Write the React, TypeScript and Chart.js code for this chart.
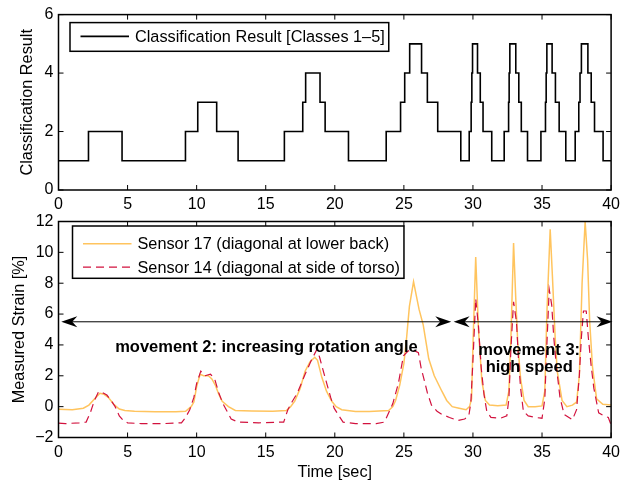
import React, { useEffect, useRef } from 'react';
import { Chart, registerables } from 'chart.js';

Chart.register(...registerables);

// ---------- data ----------
const classTime = [0, 2.17, 4.6, 9.19, 10.08, 11.45, 13.0, 16.35, 17.68, 17.89, 18.93, 19.3, 20.99, 23.72, 24.76, 25.06, 25.42, 26.28, 26.7, 27.45, 29.12, 29.73, 29.87, 29.92, 29.97, 30.33, 30.53, 30.73, 31.36, 32.26, 32.58, 32.62, 32.67, 33.1, 33.32, 33.5, 33.95, 34.92, 35.25, 35.3, 35.35, 35.73, 35.97, 36.24, 36.72, 37.4, 37.66, 37.75, 37.85, 38.32, 38.56, 38.8, 39.42, 40];
const classValue = [1, 2, 1, 2, 3, 2, 1, 2, 3, 4, 3, 2, 1, 2, 3, 4, 5, 4, 3, 2, 1, 2, 3, 4, 5, 4, 3, 2, 1, 2, 3, 4, 5, 4, 3, 2, 1, 2, 3, 4, 5, 4, 3, 2, 1, 2, 3, 4, 5, 4, 3, 2, 1, 1];

const s17Time = [0, 1.0, 1.8, 2.2, 2.6, 3.0, 3.3, 3.6, 4.0, 4.4, 4.8, 5.5, 7, 8.5, 9.2, 9.6, 9.8, 10.0, 10.25, 10.5, 10.85, 11.1, 11.35, 11.6, 11.85, 12.3, 12.8, 14, 15.5, 16.5, 16.8, 17.1, 17.5, 17.85, 18.2, 18.55, 18.75, 19.06, 19.4, 19.78, 20.1, 20.5, 21.5, 22.5, 23.9, 24.2, 24.4, 24.7, 25.0, 25.2, 25.4, 25.7, 25.9, 26.1, 26.4, 26.6, 26.8, 27.2, 27.75, 28.1, 28.5, 29.0, 29.5, 29.75, 29.9, 30.0, 30.2, 30.4, 30.65, 30.9, 31.2, 31.8, 32.4, 32.6, 32.75, 32.94, 33.1, 33.25, 33.45, 33.7, 34.0, 34.5, 35.0, 35.2, 35.35, 35.59, 35.75, 35.95, 36.1, 36.45, 36.8, 37.2, 37.5, 37.7, 37.9, 38.12, 38.3, 38.45, 38.65, 38.95, 39.4, 40];
const s17Value = [-0.17, -0.2, -0.1, 0.1, 0.5, 0.87, 0.8, 0.6, 0.15, -0.15, -0.25, -0.3, -0.33, -0.33, -0.3, 0.0, 0.3, 1.3, 2.1, 2.0, 2.0, 1.8, 1.4, 0.8, 0.35, 0.0, -0.25, -0.28, -0.3, -0.25, 0.0, 0.35, 1.2, 2.3, 2.9, 3.2, 3.0, 1.9, 1.0, 0.35, 0.0, -0.2, -0.32, -0.32, -0.25, 0.0, 0.4, 1.4, 2.8, 4.5, 6.5, 8.1, 7.2, 6.3, 5.3, 4.2, 3.1, 2.0, 1.0, 0.4, 0.0, -0.1, -0.2, 0.0, 0.5, 4.0, 9.7, 5.0, 1.6, 0.4, 0.1, 0.05, 0.1, 1.0, 4.5, 10.6, 7.0, 4.0, 1.8, 0.4, 0.0, 0.0, 0.05, 1.0, 6.0, 11.5, 8.5, 4.5, 2.3, 0.4, 0.0, 0.1, 0.3, 2.0, 8.0, 12.0, 9.5, 5.5, 2.6, 0.5, 0.15, 0.1];

const s14Time = [0, 0.5, 1.5, 2.0, 2.3, 2.6, 2.9, 3.1, 3.5, 3.8, 4.1, 4.4, 4.7, 5.0, 6, 7.5, 8.9, 9.2, 9.5, 9.8, 10.0, 10.3, 10.6, 11.0, 11.3, 11.6, 11.9, 12.2, 12.5, 13, 14.5, 16.3, 16.6, 16.9, 17.3, 17.85, 18.3, 18.7, 18.9, 19.2, 19.45, 19.7, 19.95, 20.3, 20.6, 21.5, 23, 23.6, 23.9, 24.2, 24.6, 24.97, 25.3, 25.6, 26.05, 26.25, 26.45, 26.7, 27.0, 27.4, 27.75, 28.3, 28.9, 29.4, 29.7, 29.85, 30.0, 30.2, 30.4, 30.6, 30.8, 31.0, 31.3, 32.0, 32.45, 32.6, 32.75, 32.94, 33.15, 33.3, 33.45, 33.65, 34.0, 34.5, 35.0, 35.2, 35.35, 35.52, 35.7, 35.85, 36.05, 36.3, 36.6, 37.2, 37.5, 37.7, 37.85, 38.0, 38.2, 38.35, 38.55, 38.75, 39.1, 39.5, 39.8, 40];
const s14Value = [-1.07, -1.1, -1.05, -1.0, -0.4, 0.4, 0.97, 0.95, 0.75, 0.4, 0.0, -0.6, -0.9, -1.05, -1.1, -1.1, -1.05, -0.7, -0.2, 0.6, 1.5, 2.3, 2.0, 2.1, 1.8, 0.9, 0.2, -0.3, -0.8, -1.0, -1.05, -1.0, -0.2, 0.3, 0.9, 2.1, 3.0, 3.7, 3.2, 2.2, 1.4, 0.6, -0.1, -0.6, -1.0, -1.1, -1.1, -1.0, -0.4, 0.2, 1.5, 3.3, 3.6, 3.7, 3.5, 2.5, 1.8, 0.9, 0.1, -0.3, -0.5, -0.7, -0.9, -0.8, -0.6, 0.3, 3.0, 7.0, 5.2, 2.5, 0.8, -0.3, -0.7, -0.75, -0.6, 0.5, 3.8, 6.8, 5.5, 3.0, 1.2, -0.3, -0.6, -0.7, -0.75, 0.5, 4.0, 7.6, 6.6, 4.5, 2.5, 0.6, -0.5, -0.85, -0.2, 2.0, 4.5, 6.2, 6.2, 4.5, 2.7, 1.2, -0.4, -0.6, -0.7, -1.2];

const xTicks = [0, 5, 10, 15, 20, 25, 30, 35, 40];
const yTicksTop = [0, 2, 4, 6];
const yTicksBottom = [-2, 0, 2, 4, 6, 8, 10, 12];

const arrowFrom = [0.2, 28.6];
const arrowTo = [28.43, 40.1];
const arrowAt = [5.5, 5.5];

const noteText = ['movement 2: increasing rotation angle', 'movement 3:', 'high speed'];
const noteX = [15.05, 34.07, 34.07];
const noteY = [3.52, 3.35, 2.27];

const topLabel = 'Classification Result [Classes 1\u20135]';
const s17Label = 'Sensor 17 (diagonal at lower back)';
const s14Label = 'Sensor 14 (diagonal at side of torso)';

// ---------- styling ----------
const FONT = '"Liberation Sans", Arial, Helvetica, sans-serif';
const ORANGE = '#FFC45E';
const CRIMSON = '#D2123E';

const fmt = (v: number) => (v < 0 ? '\u2212' + Math.abs(v) : String(v));

const boxPlugin = {
  id: 'matlabBox',
  afterDatasetsDraw(chart: any) {
    const { ctx, chartArea: a, scales } = chart;
    const x = scales.x, y = scales.y;
    const L = 5;
    ctx.save();
    ctx.strokeStyle = '#000';
    ctx.lineWidth = 1;
    ctx.beginPath();
    x.ticks.forEach((t: any) => {
      const px = x.getPixelForValue(t.value);
      ctx.moveTo(px, a.bottom); ctx.lineTo(px, a.bottom - L);
      ctx.moveTo(px, a.top); ctx.lineTo(px, a.top + L);
    });
    y.ticks.forEach((t: any) => {
      const py = y.getPixelForValue(t.value);
      ctx.moveTo(a.left, py); ctx.lineTo(a.left + L, py);
      ctx.moveTo(a.right, py); ctx.lineTo(a.right - L, py);
    });
    ctx.stroke();
    ctx.lineWidth = 1.5;
    ctx.strokeRect(a.left, a.top, a.right - a.left, a.bottom - a.top);
    ctx.restore();
  },
};

function makeLegend(offX: number, offY: number, boxH: number, firstRow: number, rowH: number) {
  return {
    id: 'boxLegend',
    afterDraw(chart: any) {
      const { ctx, chartArea: a } = chart;
      const ds = chart.data.datasets;
      ctx.save();
      ctx.font = `16.3px ${FONT}`;
      const tw = Math.max(...ds.map((d: any) => ctx.measureText(d.label).width));
      const bx = a.left + offX, by = a.top + offY;
      const bw = 65 + tw + 4;
      ctx.fillStyle = '#fff';
      ctx.fillRect(bx, by, bw, boxH);
      ctx.strokeStyle = '#000';
      ctx.lineWidth = 1.5;
      ctx.strokeRect(bx, by, bw, boxH);
      ds.forEach((d: any, i: number) => {
        const cy = by + firstRow + i * rowH;
        ctx.strokeStyle = d.borderColor;
        ctx.lineWidth = d.borderWidth;
        ctx.setLineDash(d.borderDash || []);
        ctx.beginPath();
        ctx.moveTo(bx + 10.5, cy);
        ctx.lineTo(bx + 59, cy);
        ctx.stroke();
        ctx.setLineDash([]);
        ctx.fillStyle = '#000';
        ctx.textBaseline = 'middle';
        ctx.textAlign = 'left';
        ctx.fillText(d.label, bx + 65, cy + 1);
      });
      ctx.restore();
    },
  };
}

const notesPlugin = {
  id: 'notes',
  afterDatasetsDraw(chart: any) {
    const { ctx, scales } = chart;
    const x = scales.x, y = scales.y;
    ctx.save();
    ctx.strokeStyle = '#000';
    ctx.fillStyle = '#000';
    ctx.lineWidth = 1;
    const head = (tx: number, ty: number, dir: number) => {
      const L = 16, W = 5.5, N = 11;
      ctx.beginPath();
      ctx.moveTo(tx, ty);
      ctx.lineTo(tx - dir * L, ty - W);
      ctx.lineTo(tx - dir * N, ty);
      ctx.lineTo(tx - dir * L, ty + W);
      ctx.closePath();
      ctx.fill();
    };
    arrowFrom.forEach((f, i) => {
      const x0 = x.getPixelForValue(f);
      const x1 = x.getPixelForValue(arrowTo[i]);
      const py = y.getPixelForValue(arrowAt[i]);
      ctx.beginPath();
      ctx.moveTo(x0 + 8, py);
      ctx.lineTo(x1 - 8, py);
      ctx.stroke();
      head(x0, py, -1);
      head(x1, py, 1);
    });
    ctx.font = `bold 16.5px ${FONT}`;
    ctx.textAlign = 'center';
    ctx.textBaseline = 'alphabetic';
    noteText.forEach((s, i) => {
      ctx.fillText(s, x.getPixelForValue(noteX[i]), y.getPixelForValue(noteY[i]));
    });
    ctx.restore();
  },
};

function axisX(height: number, withTitle: boolean) {
  return {
    type: 'linear' as const,
    min: 0,
    max: 40,
    afterBuildTicks: (s: any) => { s.ticks = xTicks.map((v) => ({ value: v })); },
    afterFit: (s: any) => { s.height = height; },
    grid: { display: false, drawTicks: false },
    border: { display: false },
    ticks: {
      autoSkip: false,
      maxRotation: 0,
      padding: 5,
      color: '#000',
      font: { family: FONT, size: 16 },
      callback: (v: any) => fmt(Number(v)),
    },
    title: withTitle
      ? { display: true, text: 'Time [sec]', color: '#000', font: { family: FONT, size: 16.3 }, padding: { top: 0, bottom: 0.5 } }
      : { display: false },
  };
}

function axisY(min: number, max: number, ticks: number[], title: string, titlePad: number) {
  return {
    type: 'linear' as const,
    min,
    max,
    afterBuildTicks: (s: any) => { s.ticks = ticks.map((v) => ({ value: v })); },
    afterFit: (s: any) => { s.width = 58.5; },
    grid: { display: false, drawTicks: false },
    border: { display: false },
    ticks: {
      autoSkip: false,
      padding: 5,
      color: '#000',
      font: { family: FONT, size: 16 },
      callback: (v: any) => fmt(Number(v)),
    },
    title: { display: true, text: title, color: '#000', font: { family: FONT, size: 16.3 }, padding: { top: titlePad, bottom: 0 } },
  };
}

export default function App() {
  const topRef = useRef<HTMLCanvasElement>(null);
  const botRef = useRef<HTMLCanvasElement>(null);

  useEffect(() => {
    const top = new Chart(topRef.current as HTMLCanvasElement, {
      type: 'line',
      data: {
        datasets: [
          {
            label: topLabel,
            data: classTime.map((t, i) => ({ x: t, y: classValue[i] })),
            borderColor: '#000',
            borderWidth: 1.6,
            pointRadius: 0,
            stepped: 'before',
            fill: false,
          },
        ],
      },
      options: {
        responsive: false,
        animation: false,
        devicePixelRatio: 1,
        layout: { padding: { left: 0, top: 12, right: 13.5, bottom: 0 } },
        plugins: { legend: { display: false }, tooltip: { enabled: false } },
        scales: {
          x: axisX(293, false),
          y: axisY(0, 6, yTicksTop, 'Classification Result', 17.4),
        },
      } as any,
      plugins: [boxPlugin, makeLegend(11.5, 8, 28.7, 13.8, 0)],
    });

    const bot = new Chart(botRef.current as HTMLCanvasElement, {
      type: 'line',
      data: {
        datasets: [
          {
            label: s17Label,
            data: s17Time.map((t, i) => ({ x: t, y: s17Value[i] })),
            borderColor: ORANGE,
            borderWidth: 1.5,
            pointRadius: 0,
            tension: 0,
            fill: false,
            order: 1,
          },
          {
            label: s14Label,
            data: s14Time.map((t, i) => ({ x: t, y: s14Value[i] })),
            borderColor: CRIMSON,
            borderWidth: 1.2,
            borderDash: [8, 5],
            pointRadius: 0,
            tension: 0,
            fill: false,
            order: 0,
          },
        ],
      },
      options: {
        responsive: false,
        animation: false,
        devicePixelRatio: 1,
        layout: { padding: { left: 0, top: 221.5, right: 13.5, bottom: 0 } },
        plugins: { legend: { display: false }, tooltip: { enabled: false } },
        scales: {
          x: axisX(45.5, true),
          y: axisY(-2, 12, yTicksBottom, 'Measured Strain [%]', 10),
        },
      } as any,
      plugins: [boxPlugin, notesPlugin, makeLegend(14, 4.5, 52.3, 17.8, 23.4)],
    });

    return () => {
      top.destroy();
      bot.destroy();
    };
  }, []);

  const cv: React.CSSProperties = { position: 'absolute', left: 0, top: 0 };
  return (
    <div style={{ position: 'fixed', left: 0, top: 0, width: 625, height: 483, background: '#fff' }}>
      <canvas ref={topRef} width={625} height={483} style={cv} />
      <canvas ref={botRef} width={625} height={483} style={cv} />
    </div>
  );
}
